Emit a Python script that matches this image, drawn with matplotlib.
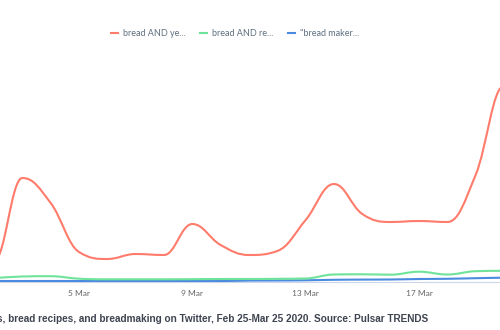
import numpy as np
import matplotlib
matplotlib.use("Agg")
from matplotlib import pyplot as plt
from matplotlib.path import Path
from matplotlib.patches import PathPatch
import matplotlib.dates as mdates

# daily mentions, 1-21 Mar 2020
days = ["2020-03-%02d" % d for d in range(1, 22)]
yeast = [480, 420, 2080, 1580, 600, 460, 560, 540, 1160, 740, 540,
         620, 1240, 1960, 1360, 1200, 1220, 1200, 2140, 3920, 3640]
recipes = [60, 80, 110, 116, 66, 54, 54, 54, 56, 60, 60,
           64, 70, 150, 154, 146, 206, 150, 216, 224, 230]
breadmaking = [20, 20, 20, 20, 20, 20, 20, 20, 20, 20, 28,
               30, 34, 44, 48, 50, 60, 64, 76, 86, 90]

labels = ["bread AND ye...", "bread AND re...", "\"bread maker..."]
colors = ["#ff7b6b", "#6fe39a", "#4a8be0"]
tick_days = ["2020-03-01", "2020-03-05", "2020-03-09", "2020-03-13", "2020-03-17", "2020-03-21"]
title = "s, bread recipes, and breadmaking on Twitter, Feb 25-Mar 25 2020. Source: Pulsar TRENDS"


def spline_path(xs, ys, smoothing=1.5):
    # bezier control points in the style of a highcharts spline
    n = len(xs)
    left = [(xs[i], ys[i]) for i in range(n)]
    right = [(xs[i], ys[i]) for i in range(n)]
    denom = smoothing + 1
    for i in range(1, n - 1):
        lx, ly = xs[i - 1], ys[i - 1]
        px, py = xs[i], ys[i]
        nx, ny = xs[i + 1], ys[i + 1]
        lcx = (smoothing * px + lx) / denom
        lcy = (smoothing * py + ly) / denom
        rcx = (smoothing * px + nx) / denom
        rcy = (smoothing * py + ny) / denom
        corr = (rcy - lcy) * (rcx - px) / (rcx - lcx) + py - rcy
        lcy += corr
        rcy += corr
        if lcy > ly and lcy > py:
            lcy = max(ly, py)
            rcy = 2 * py - lcy
        elif lcy < ly and lcy < py:
            lcy = min(ly, py)
            rcy = 2 * py - lcy
        if rcy > ny and rcy > py:
            rcy = max(ny, py)
            lcy = 2 * py - rcy
        elif rcy < ny and rcy < py:
            rcy = min(ny, py)
            lcy = 2 * py - rcy
        left[i] = (lcx, lcy)
        right[i] = (rcx, rcy)
    verts = [(xs[0], ys[0])]
    codes = [Path.MOVETO]
    for i in range(1, n):
        verts += [right[i - 1], left[i], (xs[i], ys[i])]
        codes += [Path.CURVE4] * 3
    return Path(verts, codes)


x = mdates.date2num(np.array(days, dtype="datetime64[D]"))
mar5 = mdates.date2num(np.datetime64("2020-03-05"))
day_px = 28.33

fig = plt.figure(figsize=(5, 3.3), dpi=100)
ax = fig.add_axes([0, 48 / 330, 1, 222 / 330])

for vals, c in zip([breadmaking, recipes, yeast], colors[::-1]):
    ax.add_patch(PathPatch(spline_path(x, np.array(vals, float)), fill=False,
                           edgecolor=c, lw=1.5, capstyle="round", zorder=3))

for s in ["top", "right", "left"]:
    ax.spines[s].set_visible(False)
ax.spines["bottom"].set_color("#ccd6eb")
ax.spines["bottom"].set_linewidth(0.8)
ax.set_yticks([])
ax.set_xticks(mdates.date2num(np.array(tick_days, dtype="datetime64[D]")))
ax.xaxis.set_major_formatter(mdates.DateFormatter("%-d %b"))
ax.tick_params(axis="x", length=0, pad=6, labelsize=6, labelcolor="#666666")
for t in ax.get_xticklabels():
    t.set_fontfamily("Lato")

# limits after the ticks, otherwise set_xticks widens the view
ax.set_xlim(mar5 - 79 / day_px, mar5 + 421 / day_px)
ax.set_ylim(0, 4440)

handles = [plt.Line2D([], [], color=c, lw=1.5) for c in colors]
fig.legend(handles, labels, loc="center", bbox_to_anchor=(0.47, 1 - 34 / 330),
           ncol=3, frameon=False, handlelength=0.75, handletextpad=0.55,
           columnspacing=1.6, prop={"family": "Lato", "size": 6.5}, labelcolor="#5f7080")

fig.text(428 / 500, 1 - 319 / 330, title, ha="right", va="center",
         fontsize=7.2, fontweight="bold", color="#3e4450", family="Liberation Sans")

fig.savefig("out.png", dpi=100)
